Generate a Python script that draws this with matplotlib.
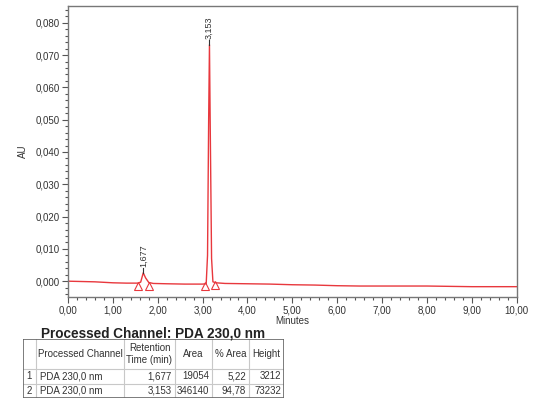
import numpy as np
import matplotlib.pyplot as plt
from matplotlib.ticker import MultipleLocator, FuncFormatter

plt.rcParams['font.family'] = ['Liberation Sans', 'DejaVu Sans']

# chromatogram trace (minutes, AU)
time_min = [0.00, 0.30, 0.60, 1.00, 1.30, 1.55, 1.62, 1.677, 1.73, 1.80, 1.90,
            2.20, 2.60, 3.00, 3.08, 3.11, 3.135, 3.153, 3.17, 3.20, 3.23,
            3.30, 3.50, 4.00, 4.50, 5.00, 5.50, 6.00, 6.50, 7.00, 7.50,
            8.00, 8.50, 9.00, 9.50, 10.00]
signal_au = [0.0000, -0.0001, -0.0002, -0.0005, -0.0006, -0.0006, -0.0003, 0.0026,
             0.0010, -0.0004, -0.0007, -0.0008, -0.0009, -0.0009, -0.0008, 0.0080,
             0.0500, 0.0732, 0.0480, 0.0070, -0.0002, -0.0005, -0.0007, -0.0008,
             -0.0009, -0.0011, -0.0012, -0.0014, -0.0015, -0.0015, -0.0015,
             -0.0015, -0.0016, -0.0017, -0.0017, -0.0017]

peak_rt = [1.677, 3.153]
peak_top = [0.0026, 0.0732]
peak_labels = ['1,677', '3,153']
marker_t = [1.56, 1.81, 3.05, 3.28]
marker_y = [-0.0014, -0.0014, -0.0015, -0.0013]

table_title = 'Processed Channel: PDA 230,0 nm'
col_names = ['', 'Processed Channel', 'Retention\nTime (min)', 'Area', '% Area', 'Height']
rows = [['1', 'PDA 230,0 nm', '1,677', '19054', '5,22', '3212'],
        ['2', 'PDA 230,0 nm', '3,153', '346140', '94,78', '73232']]

red = '#e8383d'
comma = lambda fmt: FuncFormatter(lambda v, p: (fmt % v).replace('.', ','))

fig = plt.figure(figsize=(5.41, 4.03), dpi=100)
ax = fig.add_axes([0.1257, 0.2638, 0.8293, 0.7221])
ax.plot(time_min, signal_au, color=red, lw=1.0)
ax.plot(marker_t, marker_y, ls='none', marker='^', ms=6, mfc='none', mec=red, mew=0.8)
for t, h, lab in zip(peak_rt, peak_top, peak_labels):
    ax.plot([t, t], [h, h + 0.0016], color='#333333', lw=0.8)
    ax.text(t, h + 0.0019, lab, rotation=90, ha='center', va='bottom', fontsize=6.5, color='#333333')

ax.set_xlim(0, 10)
ax.set_ylim(-0.0048, 0.0853)
ax.xaxis.set_major_locator(MultipleLocator(1))
ax.xaxis.set_minor_locator(MultipleLocator(0.2))
ax.yaxis.set_major_locator(MultipleLocator(0.01))
ax.yaxis.set_minor_locator(MultipleLocator(0.002))
ax.xaxis.set_major_formatter(comma('%.2f'))
ax.yaxis.set_major_formatter(comma('%.3f'))
ax.tick_params(which='both', direction='out', colors='#555555', labelcolor='#333333', labelsize=7, width=0.8, pad=2)
ax.tick_params(which='major', length=4)
ax.tick_params(which='minor', length=2)
for s in ax.spines.values():
    s.set_color('#777777')
    s.set_linewidth(1.0)
ax.set_xlabel('Minutes', fontsize=7, color='#333333', labelpad=1)
ax.set_ylabel('AU', fontsize=7, color='#333333', labelpad=5)

# peak table
fig.text(153 / 541, 1 - 334 / 403, table_title, ha='center', va='center', fontsize=9.8, fontweight='bold', color='#222222')
tax = fig.add_axes([22.7 / 541, 1 - 398 / 403, 261.3 / 541, 59 / 403])
tax.set_xlim(0, 261.3)
tax.set_ylim(59, 0)
tax.axis('off')
col_w = [13.3, 88, 51, 37, 37, 35]
row_h = [30, 14.5, 14.5]
align = ['center', 'left', 'right', 'right', 'right', 'right']
xs = np.concatenate([[0], np.cumsum(col_w)])
ys = np.concatenate([[0], np.cumsum(row_h)])
for x in xs[1:-1]:
    tax.plot([x, x], [0, 59], color='#c8c8c8', lw=0.8)
for y in ys[1:-1]:
    tax.plot([0, 261.3], [y, y], color='#c8c8c8', lw=0.8)
tax.plot([0, 261.3, 261.3, 0, 0], [0, 0, 59, 59, 0], color='#666666', lw=1.2)
for j, name in enumerate(col_names):
    tax.text((xs[j] + xs[j + 1]) / 2, row_h[0] / 2, name, ha='center', va='center', fontsize=7, color='#333333', linespacing=1.2)
for i, r in enumerate(rows):
    yc = (ys[i + 1] + ys[i + 2]) / 2
    for j, val in enumerate(r):
        if align[j] == 'center':
            x = (xs[j] + xs[j + 1]) / 2
        elif align[j] == 'left':
            x = xs[j] + 4
        else:
            x = xs[j + 1] - 3
        tax.text(x, yc, val, ha=align[j], va='center', fontsize=7, color='#333333')

plt.savefig('out.png', dpi=100)
